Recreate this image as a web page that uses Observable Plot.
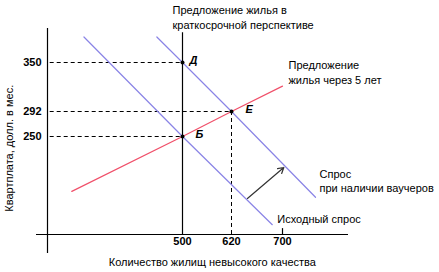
<!DOCTYPE html>
<html>
<head>
<meta charset="utf-8">
<script src="https://cdn.jsdelivr.net/npm/d3@7"></script>
<script src="https://cdn.jsdelivr.net/npm/@observablehq/plot@0.6"></script>
<style>
  html, body { margin: 0; padding: 0; background: #fff; }
  svg { display: block; }
</style>
</head>
<body>
<div id="chart"></div>
<script>
// Quantity (x) and rent (y) tick values
const xTicks = [500, 620, 700];
const yTicks = [350, 292, 250];

// Short-run supply (vertical at 500)
const shortRunQ = 500;
// Supply after 5 years (red)
const supply5 = [
  {q: 90, p: 110}, {q: 500, p: 250}, {q: 620, p: 292}, {q: 700, p: 322}
];
// Original demand
const demand0 = [
  {q: 135, p: 380}, {q: 500, p: 250}, {q: 684, p: 25}
];
// Demand with vouchers
const demand1 = [
  {q: 405, p: 380}, {q: 500, p: 350}, {q: 620, p: 292}, {q: 750, p: 95}
];
// Equilibrium points
const pointNames = ["Д", "Б", "E"];
const pointQ = [500, 500, 620];
const pointP = [350, 250, 292];
const points = pointNames.map((name, i) => ({name, q: pointQ[i], p: pointP[i]}));
// Guide (dashed) levels
const guides = [
  {p: 350, q: 500}, {p: 292, q: 620}, {p: 250, q: 500}
];
// Shift arrow
const shift = [{q1: 645, p1: 92, q2: 702, p2: 171}];

const font = "Liberation Sans, Arial, sans-serif";
const labelStyle = {x: "q", y: "p", text: "name", dy: -2, textAnchor: "start",
  fontWeight: "bold", fontStyle: "italic", fontSize: 11};

const chart = Plot.plot({
  width: 439,
  height: 272,
  marginLeft: 36,
  marginRight: 91,
  marginTop: 28,
  marginBottom: 19,
  style: {fontFamily: font, fontSize: "11px", color: "#000", background: "#fff"},
  x: {type: "linear", domain: [-40, 0, 500, 620, 700, 800], range: [36, 47, 182, 231, 282, 348], axis: null},
  y: {type: "linear", domain: [-50, 0, 250, 292, 350, 390], range: [253, 234, 136, 111, 62, 28], axis: null},
  marks: [
    // axes lines
    Plot.ruleY([0], {stroke: "#000", strokeWidth: 1.2}),
    Plot.ruleX([0], {stroke: "#000", strokeWidth: 1.2}),
    // tick at 700
    Plot.ruleX([700], {y1: 0, y2: 15, stroke: "#000", strokeWidth: 1.2}),
    // dashed guides
    Plot.ruleY(guides, {y: "p", x1: 10, x2: "q", stroke: "#000", strokeWidth: 1, strokeDasharray: "4,3"}),
    Plot.ruleX([620], {y1: 0, y2: 292, stroke: "#000", strokeWidth: 1, strokeDasharray: "4,3"}),
    // short-run supply
    Plot.ruleX([shortRunQ], {y1: 0, y2: 385, stroke: "#000", strokeWidth: 1.2}),
    // curves
    Plot.line(demand0, {x: "q", y: "p", stroke: "#8a84e6", strokeWidth: 1.2}),
    Plot.line(demand1, {x: "q", y: "p", stroke: "#8a84e6", strokeWidth: 1.2}),
    Plot.line(supply5, {x: "q", y: "p", stroke: "#f0506a", strokeWidth: 1.2}),
    // shift arrow
    Plot.arrow(shift, {x1: "q1", y1: "p1", x2: "q2", y2: "p2", stroke: "#333", strokeWidth: 1.2, headLength: 8}),
    // points
    Plot.dot(points, {x: "q", y: "p", r: 2, fill: "#000"}),
    Plot.text(points.filter(d => d.name === "Д"), {...labelStyle, dx: 7}),
    Plot.text(points.filter(d => d.name === "Б"), {...labelStyle, dx: 13}),
    Plot.text(points.filter(d => d.name === "E"), {...labelStyle, dx: 14}),
    // tick labels
    Plot.text(yTicks, {y: d => d, frameAnchor: "left", dx: 5, textAnchor: "end", fontWeight: "bold", fontSize: 11}),
    Plot.text(xTicks, {x: d => d, frameAnchor: "bottom", dy: -9, fontWeight: "bold", fontSize: 11}),
    // axis titles
    Plot.text(["Количество жилищ невысокого качества"], {x: 573, frameAnchor: "bottom", dy: 12, fontSize: 11}),
    Plot.text(["Квартплата, долл. в мес."], {y: 220, frameAnchor: "left", textAnchor: "middle", dx: -27, rotate: -90, fontSize: 11}),
    // curve labels
    Plot.text(["Предложение жилья в\nкраткосрочной перспективе"], {x: 500, y: 385, dx: -10, dy: -16.5,
      textAnchor: "start", lineAnchor: "middle", lineHeight: 1.36, fontSize: 11}),
    Plot.text(["Предложение\nжилья через 5 лет"], {x: 700, y: 322, dx: 6, dy: -14.5,
      textAnchor: "start", lineAnchor: "middle", lineHeight: 1.4, fontSize: 11}),
    Plot.text(["Спрос\nпри наличии ваучеров"], {x: 750, y: 95, dx: 4, dy: -17,
      textAnchor: "start", lineAnchor: "middle", lineHeight: 1.3, fontSize: 11}),
    Plot.text(["Исходный спрос"], {x: 684, y: 25, dx: 5, dy: -5, textAnchor: "start", fontSize: 11})
  ]
});
document.getElementById("chart").appendChild(chart);
</script>
</body>
</html>
